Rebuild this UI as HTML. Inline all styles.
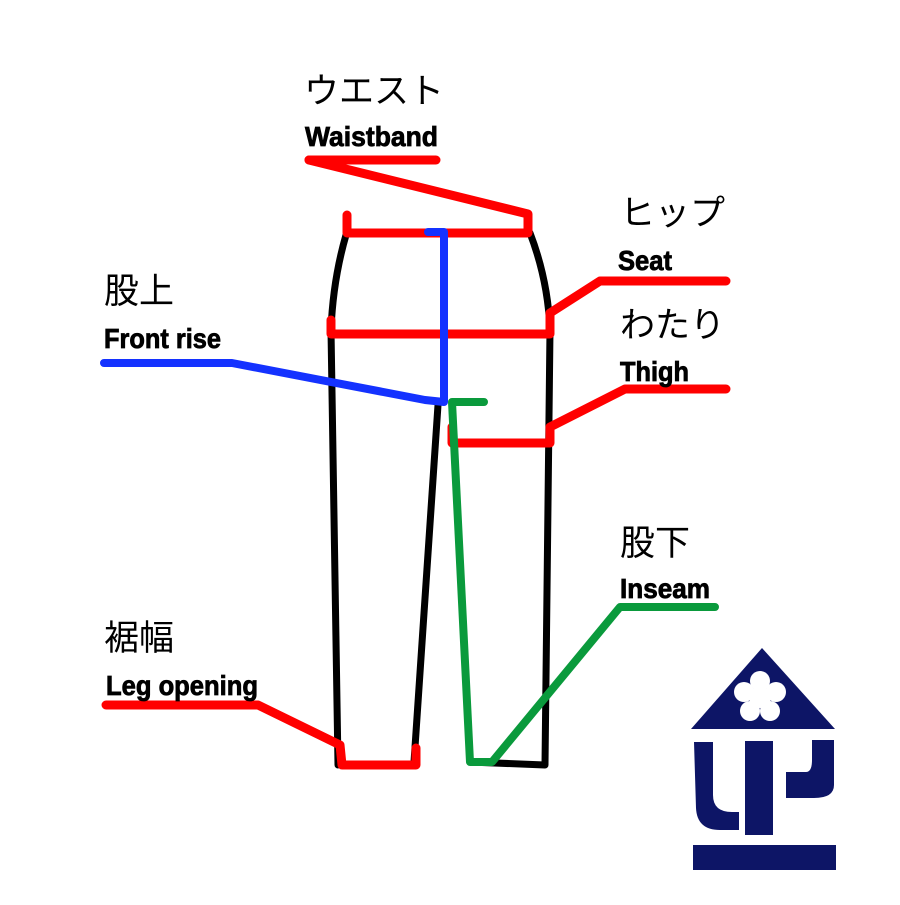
<!DOCTYPE html>
<html><head><meta charset="utf-8"><style>body{margin:0;background:#fff}</style></head><body>
<svg width="900" height="900" viewBox="0 0 900 900" xmlns="http://www.w3.org/2000/svg">
<g fill="none" stroke="#000" stroke-width="7" stroke-linecap="round" stroke-linejoin="round">
<path d="M346,235 Q333,280 331,330 L338,765"/>
<path d="M438,405 L414,762"/>
<path d="M530,233 Q548,280 550,330 L545,765 L470,762 L452,405"/>
</g>
<g fill="none" stroke="#f00" stroke-width="9" stroke-linecap="round" stroke-linejoin="round">
<path d="M309,160 L436,160"/>
<path d="M309,160 L528,214 L528,233 L347,233 L347,215"/>
<path d="M331,320 L331,334 L550,334 L550,313 L600,281 L726,281"/>
<path d="M452,427 L452,443 L550,443 L550,427 L625,389 L726,389"/>
<path d="M106,705 L258,705 L340,745 L342,765 L416,765 L416,748"/>
</g>
<g fill="none" stroke="#1432ff" stroke-width="8" stroke-linecap="round" stroke-linejoin="round">
<path d="M428,232 L444,232 L444,402 L425,400 L232,363 L104,363"/>
</g>
<g fill="none" stroke="#0a9a3c" stroke-width="8" stroke-linecap="round" stroke-linejoin="round">
<path d="M484,402 L452,402 L470,762 L492,762 L620,607 L715,607"/>
</g>
<g font-family="'Liberation Sans','Noto Sans CJK JP',sans-serif" fill="#000">
<text x="304" y="103" font-size="35">ウエスト</text>
<text x="620" y="225" font-size="35">ヒップ</text>
<text x="620" y="337" font-size="35">わたり</text>
<text x="104" y="303" font-size="35">股上</text>
<text x="620" y="555" font-size="35">股下</text>
<text x="104" y="650" font-size="35">裾幅</text>
<g font-weight="bold" font-size="28" stroke="#000" stroke-width="0.8">
<text x="305" y="146" textLength="133" lengthAdjust="spacingAndGlyphs">Waistband</text>
<text x="618" y="270" textLength="54" lengthAdjust="spacingAndGlyphs">Seat</text>
<text x="620" y="381" textLength="69" lengthAdjust="spacingAndGlyphs">Thigh</text>
<text x="104" y="348" textLength="117" lengthAdjust="spacingAndGlyphs">Front rise</text>
<text x="620" y="598" textLength="90" lengthAdjust="spacingAndGlyphs">Inseam</text>
<text x="106" y="695" textLength="152" lengthAdjust="spacingAndGlyphs">Leg opening</text>
</g></g>
<g fill="#0d1566">
<polygon points="691,729 835,729 762,648"/>
<path d="M694,742 L713,742 L713,795 Q713,812 732,812 L739,812 L739,830 L720,830 Q697,830 696,808 Z"/>
<rect x="745" y="741" width="28" height="94"/>
<path d="M812,740 L834,740 L834,785 Q834,798 814,798 L786,798 L786,772 L806,772 Q812,772 812,760 Z"/>
<rect x="693" y="845" width="143" height="25"/>
</g>
<g fill="#fff">
<circle cx="760" cy="697" r="11"/>
<circle cx="760" cy="681" r="10"/><circle cx="776" cy="692" r="10"/><circle cx="770" cy="711" r="10"/>
<circle cx="750" cy="711" r="10"/><circle cx="744" cy="692" r="10"/>
</g>
</svg>
</body></html>
